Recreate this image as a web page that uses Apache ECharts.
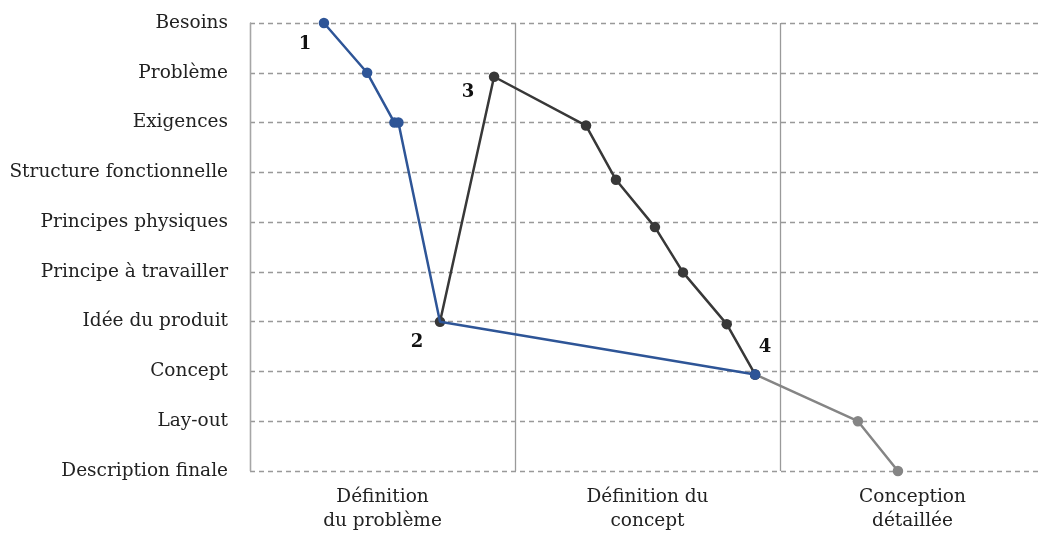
<!DOCTYPE html>
<html>
<head>
<meta charset="utf-8">
<script src="https://cdn.jsdelivr.net/npm/echarts@6/dist/echarts.min.js"></script>
<style>html,body{margin:0;padding:0;background:#fff;overflow:hidden}#c{width:1045px;height:533px}</style>
</head>
<body>
<div id="c"></div>
<script>
// Y levels (top to bottom)
const levels = ['Besoins','Problème','Exigences','Structure fonctionnelle','Principes physiques','Principe à travailler','Idée du produit','Concept','Lay-out','Description finale'];
// Phases (columns)
const phases = ['Définition\ndu problème','Définition du\nconcept','Conception\ndétaillée'];
const phaseCenters = [0.5, 1.5, 2.5];

// Path 1 (blue): [phase position, level position]
const blueX = [0.279, 0.442, 0.545, 0.56, 0.717, 1.906];
const blueY = [0, 1, 2, 2, 6, 7.06];
// Path 2 (dark)
const darkX = [0.717, 0.921, 1.268, 1.381, 1.528, 1.634, 1.799, 1.906];
const darkY = [6, 1.08, 2.06, 3.15, 4.1, 5.01, 6.05, 7.06];
// Path 3 (gray)
const grayX = [1.906, 2.294, 2.445];
const grayY = [7.06, 8, 9];

const fontFam = '"DejaVu Serif", serif';
const numLabel = (txt, dx, dy) => ({show:true, position:'inside', formatter:txt, offset:[dx,dy], fontFamily:fontFam, fontWeight:'bold', fontSize:18, color:'#111'});

function pts(xs, ys){ return xs.map((x,i)=>[x, ys[i]]); }

const blueData = pts(blueX, blueY).map((p,i)=>{
  const o = {value:p};
  if (i===0) o.label = numLabel('1', -19, 21);
  if (i===4) o.symbol = 'none';
  if (i===5) o.label = numLabel('4', 10, -27);
  return o;
});
const darkData = pts(darkX, darkY).map((p,i)=>{
  const o = {value:p};
  if (i===0) o.label = numLabel('2', -23, 21);
  if (i===1) o.label = numLabel('3', -26, 16);
  return o;
});
const grayData = pts(grayX, grayY);

const chart = echarts.init(document.getElementById('c'));
chart.setOption({
  animation:false,
  grid:{left:250, top:23, right:0, bottom:62, containLabel:false},
  xAxis:{
    type:'value', min:0, max:3, interval:1,
    axisLine:{show:false}, axisTick:{show:false},
    axisLabel:{show:true, customValues:phaseCenters, margin:14, fontFamily:fontFam, fontSize:18.5, color:'#222', lineHeight:24, align:'center',
      formatter:v=>phases[Math.round(v-0.5)]},
    splitLine:{show:true, lineStyle:{color:'#9a9a9a', width:1.3, type:'solid'}}
  },
  yAxis:{
    type:'value', min:0, max:9, interval:1, inverse:true,
    axisLine:{show:true, lineStyle:{color:'#a6a6a6', width:1.3}},
    axisTick:{show:false},
    axisLabel:{margin:22, fontFamily:fontFam, fontSize:18.5, color:'#222', formatter:v=>levels[Math.round(v)]},
    splitLine:{show:true, lineStyle:{color:'#999', width:1.3, type:[5,4]}}
  },
  series:[
    {type:'line', name:'gray', data:grayData, z:2, symbol:'circle', symbolSize:10.5,
     lineStyle:{color:'#858585', width:2.5}, itemStyle:{color:'#858585'}},
    {type:'line', name:'dark', data:darkData, z:3, symbol:'circle', symbolSize:10.5,
     lineStyle:{color:'#383838', width:2.5}, itemStyle:{color:'#383838'}},
    {type:'line', name:'blue', data:blueData, z:4, symbol:'circle', symbolSize:10.5,
     lineStyle:{color:'#2e5597', width:2.5}, itemStyle:{color:'#2e5597'}}
  ]
});
</script>
</body>
</html>
